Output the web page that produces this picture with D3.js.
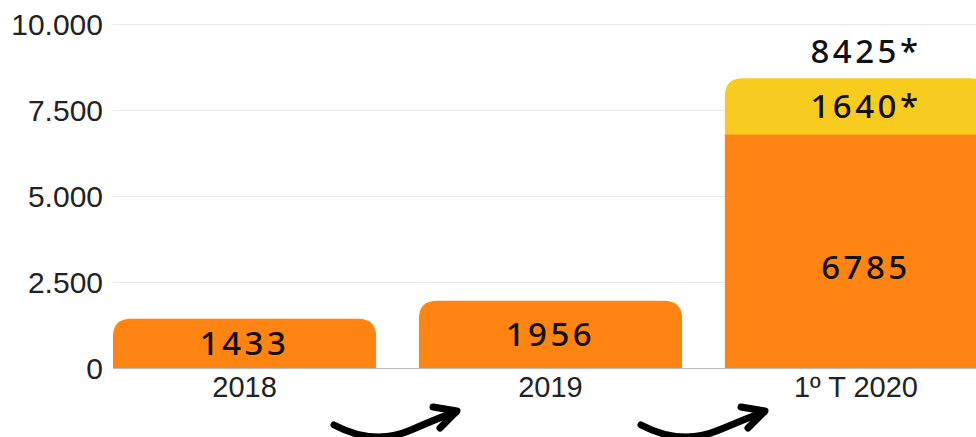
<!DOCTYPE html>
<html><head><meta charset="utf-8">
<script src="https://cdn.jsdelivr.net/npm/d3@7"></script>
<style>body{margin:0;background:#fff;overflow:hidden}</style>
</head><body><svg id="c" width="976" height="437"></svg>
<script>
const categories = ["2018", "2019", "1º T 2020"];
const baseValues = [1433, 1956, 6785];
const extraValues = [0, 0, 1640];
const extraLabels = ["", "", "1640*"];
const totalLabels = ["", "", "8425*"];
const yTicks = [0, 2500, 5000, 7500, 10000];
const yTickLabels = ["0", "2.500", "5.000", "7.500", "10.000"];

(function () {
const svg = d3.select("#c");
const mLeft = 113, mRight = 988, mTop = 24, mBottom = 368;
const x = d3.scaleBand().domain(categories).range([mLeft, mRight]).paddingInner(0.14).paddingOuter(0);
const y = d3.scaleLinear().domain([0, 10000]).range([mBottom, mTop]);
const orange = "#FF8412", yellow = "#F8CB1F";

// grid
svg.append("g").selectAll("line").data(yTicks.slice(1)).join("line")
  .attr("x1", mLeft).attr("x2", 976).attr("y1", d => y(d) + 0.5).attr("y2", d => y(d) + 0.5)
  .attr("stroke", "#e9e9e9").attr("stroke-width", 1);

// y tick labels
svg.append("g").selectAll("text").data(yTicks).join("text")
  .attr("x", 103).attr("y", d => y(d)).attr("dy", "0.36em")
  .attr("text-anchor", "end").attr("font-family", "Liberation Sans, Arial, sans-serif")
  .attr("font-size", 30).attr("fill", "#222").text((d, i) => yTickLabels[i]);

function topRounded(x0, y0, w, h, r) {
  r = Math.min(r, h);
  return `M${x0},${y0 + h}V${y0 + r}Q${x0},${y0} ${x0 + r},${y0}H${x0 + w - r}Q${x0 + w},${y0} ${x0 + w},${y0 + r}V${y0 + h}Z`;
}
const R = 18;
const bars = svg.append("g");
categories.forEach((c, i) => {
  const bx = x(c), bw = x.bandwidth();
  const b = baseValues[i], e = extraValues[i];
  if (e > 0) {
    bars.append("path").attr("d", topRounded(bx, y(b + e), bw, y(0) - y(b + e), R)).attr("fill", yellow);
    bars.append("rect").attr("x", bx).attr("y", y(b)).attr("width", bw).attr("height", y(0) - y(b)).attr("fill", orange);
  } else {
    bars.append("path").attr("d", topRounded(bx, y(b), bw, y(0) - y(b), R)).attr("fill", orange);
  }
});

// baseline
svg.append("line").attr("x1", mLeft).attr("x2", 976).attr("y1", y(0) + 0.5).attr("y2", y(0) + 0.5)
  .attr("stroke", "#bbb").attr("stroke-width", 1);

// value labels
const lbl = svg.append("g").attr("font-family", "Noto Sans, sans-serif").attr("font-weight", 500)
  .attr("font-size", 33).attr("letter-spacing", 3.5).attr("text-anchor", "middle").attr("fill", "#111");
categories.forEach((c, i) => {
  const cx = x(c) + x.bandwidth() / 2;
  const b = baseValues[i], e = extraValues[i];
  const tall = y(0) - y(b) > 150;
  const ly = (y(0) + y(b)) / 2 + (tall ? 16 : 0);
  const tx = i === 2 ? 866 : cx;
  lbl.append("text").attr("x", tx).attr("y", ly).attr("dy", "0.36em").text(b);
  if (e > 0) {
    lbl.append("text").attr("x", tx).attr("y", (y(b) + y(b + e)) / 2).attr("dy", "0.36em").text(extraLabels[i]);
    lbl.append("text").attr("x", tx).attr("y", y(b + e) - 27).attr("dy", "0.36em").text(totalLabels[i]);
  }
});

// x labels
svg.append("g").selectAll("text").data(categories).join("text")
  .attr("x", (d, i) => i === 2 ? 856 : x(d) + x.bandwidth() / 2).attr("y", 387).attr("dy", "0.36em")
  .attr("text-anchor", "middle").attr("font-family", "Liberation Sans, Arial, sans-serif")
  .attr("font-size", 29).attr("fill", "#222").text(d => d);

// arrows
const arrows = svg.append("g").attr("fill", "none").attr("stroke", "#000").attr("stroke-linecap", "round").attr("stroke-linejoin", "round");
[[334, 456], [641, 764]].forEach(([sx, ex]) => {
  arrows.append("path").attr("stroke-width", 7)
    .attr("d", `M${sx},${425} Q${sx + 40},${446} ${ex - 45},${430} T${ex},${412}`);
  arrows.append("path").attr("stroke-width", 7)
    .attr("d", `M${ex - 23},${407} L${ex + 1},${411} L${ex - 16},${428}`);
});
})();
</script></body></html>
